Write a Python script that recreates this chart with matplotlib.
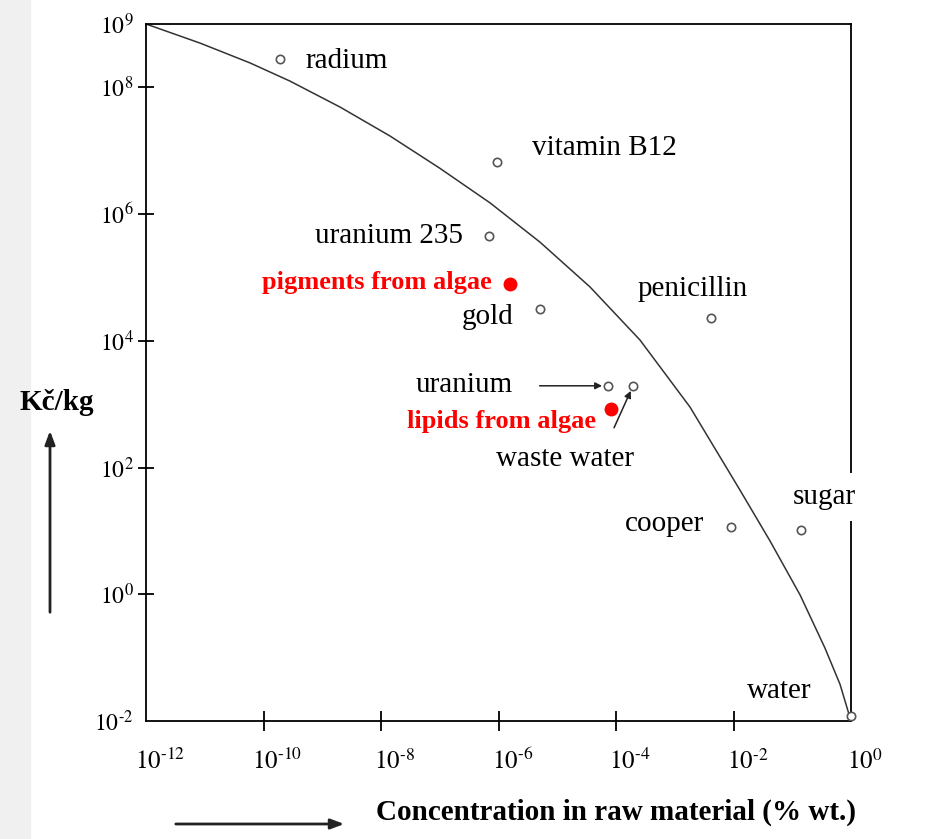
import numpy as np
import matplotlib
matplotlib.use('Agg')
import matplotlib.pyplot as plt
import matplotlib.transforms as mtransforms

plt.rcParams['font.family'] = ['Liberation Serif', 'DejaVu Serif']
plt.rcParams['mathtext.fontset'] = 'stix'

# data: concentration (% wt.) and price (Kc/kg)
names = ['radium', 'vitamin B12', 'uranium 235', 'gold', 'penicillin', 'uranium',
         'waste water', 'cooper', 'sugar', 'water']
conc = [1.9e-10, 9.3e-7, 6.9e-7, 5.1e-6, 4.2e-3, 7.2e-5, 1.95e-4, 9.1e-3, 0.14, 1.0]
price = [2.8e8, 6.6e6, 4.5e5, 3.2e4, 2.3e4, 1.95e3, 1.95e3, 11.5, 10.2, 0.012]

algae_names = ['pigments from algae', 'lipids from algae']
algae_conc = [1.6e-6, 8.1e-5]
algae_price = [8.0e4, 8.3e2]

# trend curve (Sherwood plot)
curve_conc = [1e-12, 8.3e-12, 5.9e-11, 2.8e-10, 2.0e-9, 1.42e-8, 1.0e-7, 7.2e-7,
              5.1e-6, 3.6e-5, 2.56e-4, 1.82e-3, 1.29e-2, 4.2e-2, 0.136, 0.36, 0.65, 1.0]
curve_price = [1e9, 5.0e8, 2.43e8, 1.26e8, 4.9e7, 1.71e7, 5.3e6, 1.5e6,
               3.6e5, 7.1e4, 1.03e4, 900, 44, 6.9, 0.975, 0.142, 0.038, 0.01]

xticks_exp = [-12, -10, -8, -6, -4, -2, 0]
yticks_exp = [-2, 0, 2, 4, 6, 8, 9]

W, H = 951, 839
fig = plt.figure(figsize=(W / 100, H / 100), dpi=100)
fig.patches.append(plt.Rectangle((0, 0), 30 / W, 1, transform=fig.transFigure,
                                 color='#f0f0f0', zorder=0))
ax = fig.add_axes([146 / W, 1 - 721 / H, 705 / W, 697 / H])
ax.set_xscale('log')
ax.set_yscale('log')
ax.set_xlim(1e-12, 1)
ax.set_ylim(1e-2, 1e9)

ax.plot(curve_conc, curve_price, color='#333333', lw=1.1, zorder=2)
ax.plot(conc, price, 'o', ms=6, mfc='white', mec='#555555', mew=1.2,
        clip_on=False, zorder=4)
ax.plot(algae_conc, algae_price, 'o', ms=9, color='red', mec='red', zorder=4)

for s in ax.spines.values():
    s.set_linewidth(1.3)


def pow_label(e):
    return '$10^{\\text{%d}}$' % e


ax.set_xticks([10.0 ** e for e in xticks_exp])
ax.set_xticklabels([pow_label(e) for e in xticks_exp])
ax.set_yticks([10.0 ** e for e in yticks_exp])
ax.set_yticklabels([pow_label(e) for e in yticks_exp])
ax.minorticks_off()
ax.tick_params(axis='x', direction='inout', length=14, width=1.3, labelsize=18, pad=13)
ax.tick_params(axis='y', direction='inout', length=12, width=1.3, labelsize=17, pad=3)
for t in [ax.xaxis.get_major_ticks()[0], ax.xaxis.get_major_ticks()[-1],
          ax.yaxis.get_major_ticks()[0], ax.yaxis.get_major_ticks()[-1]]:
    t.tick1line.set_visible(False)
    t.tick2line.set_visible(False)
shift = mtransforms.ScaledTranslation(14 / 100, 0, fig.dpi_scale_trans)
for lab in ax.get_xticklabels():
    lab.set_transform(lab.get_transform() + shift)

# label offsets in pixels from each point
offsets = {
    'radium': (26, -2, 'left'),
    'vitamin B12': (35, 14, 'left'),
    'uranium 235': (-26, 0, 'right'),
    'gold': (-27, -8, 'right'),
    'penicillin': (-74, 29, 'left'),
    'uranium': (-95, 1, 'right'),
    'waste water': (-137, -73, 'left'),
    'cooper': (-27, 3, 'right'),
    'sugar': (-8, 33, 'left'),
    'water': (-104, 25, 'left'),
}
for n, x, y in zip(names, conc, price):
    dx, dy, ha = offsets[n]
    kw = {}
    if n == 'sugar':
        kw['bbox'] = dict(facecolor='white', edgecolor='none', pad=8)
    ax.annotate(n, (x, y), xytext=(dx, dy), textcoords='offset pixels',
                ha=ha, va='center', fontsize=21, zorder=5, **kw)

algae_offsets = [(-19, 1), (-15, -12)]
for n, x, y, (dx, dy) in zip(algae_names, algae_conc, algae_price, algae_offsets):
    ax.annotate(n, (x, y), xytext=(dx, dy), textcoords='offset pixels',
                ha='right', va='center', fontsize=19, fontweight='bold', color='red')

# pointer arrows for uranium / waste water
ax.annotate('', (conc[5], price[5]), xytext=(-68, 0), textcoords='offset pixels',
            arrowprops=dict(arrowstyle='-|>', color='#222222', lw=1.1, shrinkA=0, shrinkB=4))
ax.annotate('', (conc[6], price[6]), xytext=(-19, -42), textcoords='offset pixels',
            arrowprops=dict(arrowstyle='-|>', color='#222222', lw=1.1, shrinkA=0, shrinkB=4))

# axis titles with arrows
fig.text(57 / W, 1 - 403 / H, 'Kč/kg', ha='center', va='center',
         fontsize=21, fontweight='bold')
fig.text(616 / W, 1 - 812 / H, 'Concentration in raw material (% wt.)',
         ha='center', va='center', fontsize=21, fontweight='bold')
fig.patches.append(matplotlib.patches.FancyArrowPatch(
    (50 / W, 1 - 615 / H), (50 / W, 1 - 428 / H), transform=fig.transFigure,
    arrowstyle='-|>,head_length=8,head_width=3', lw=2, color='#222222'))
fig.patches.append(matplotlib.patches.FancyArrowPatch(
    (173 / W, 1 - 824 / H), (347 / W, 1 - 824 / H), transform=fig.transFigure,
    arrowstyle='-|>,head_length=8,head_width=3', lw=2, color='#222222'))

fig.savefig('out.png', dpi=100)
